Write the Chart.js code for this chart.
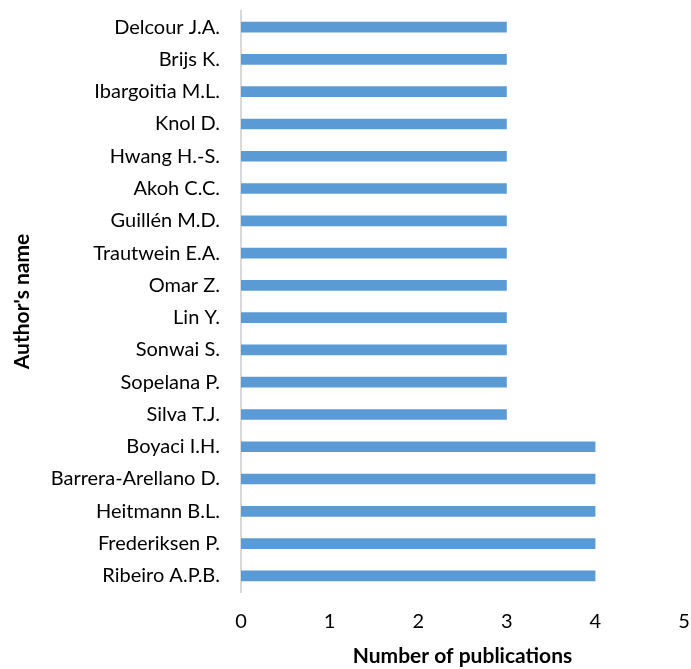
<!DOCTYPE html>
<html>
<head>
<meta charset="utf-8">
<script src="https://cdn.jsdelivr.net/npm/chart.js@4/dist/chart.umd.min.js"></script>
<style>
  html, body { margin: 0; padding: 0; background: #fff; overflow: hidden; }
  #wrap { width: 691px; height: 669px; position: relative; }
  #chart { display: block; }
</style>
</head>
<body>
<div id="wrap"><canvas id="chart"></canvas></div>
<script>
// Authors, listed top to bottom
const authors = [
  "Delcour J.A.", "Brijs K.", "Ibargoitia M.L.", "Knol D.", "Hwang H.-S.",
  "Akoh C.C.", "Guillén M.D.", "Trautwein E.A.", "Omar Z.", "Lin Y.",
  "Sonwai S.", "Sopelana P.", "Silva T.J.", "Boyaci I.H.",
  "Barrera-Arellano D.", "Heitmann B.L.", "Frederiksen P.", "Ribeiro A.P.B."
];
// Publication count per author
const publications = [3, 3, 3, 3, 3, 3, 3, 3, 3, 3, 3, 3, 3, 4, 4, 4, 4, 4];
// Range of the value axis
const xMin = 0;
const xMax = 5;

const fontFamily = "Lato, 'Open Sans', sans-serif";

new Chart(document.getElementById('chart'), {
  type: 'bar',
  data: {
    labels: authors,
    datasets: [{
      data: publications,
      backgroundColor: '#5B9BD5',
      borderWidth: 0,
      barPercentage: 0.66,
      categoryPercentage: 0.5
    }]
  },
  options: {
    indexAxis: 'y',
    responsive: true,
    maintainAspectRatio: false,
    animation: false,
    layout: { padding: { top: 11, right: 7, left: 0, bottom: 0 } },
    plugins: { legend: { display: false }, tooltip: { enabled: false } },
    scales: {
      x: {
        min: xMin, max: xMax,
        // grid hidden; tickLength only spaces the labels from the plot
        grid: { display: false, drawTicks: true, tickLength: 20 },
        border: { display: false },
        ticks: { stepSize: 1, color: '#000', padding: 0, font: { family: fontFamily, size: 20, lineHeight: 1 } },
        title: { display: true, text: 'Number of publications', color: '#000',
                 font: { family: fontFamily, size: 21, weight: 'bold' }, padding: { top: 4, bottom: 0 } },
        afterFit: (a) => { a.height = 77; }
      },
      y: {
        grid: { display: false, drawTicks: true, tickLength: 21 },
        border: { display: true, color: '#D9D9D9', width: 2 },
        ticks: { color: '#000', padding: 0, autoSkip: false, font: { family: fontFamily, size: 20, lineHeight: 1 } },
        title: { display: true, text: "Author's name", color: '#000',
                 font: { family: fontFamily, size: 21, weight: 'bold' }, padding: { top: 10, bottom: 4 } },
        afterFit: (a) => { a.width = 241; }
      }
    }
  }
});
</script>
</body>
</html>
